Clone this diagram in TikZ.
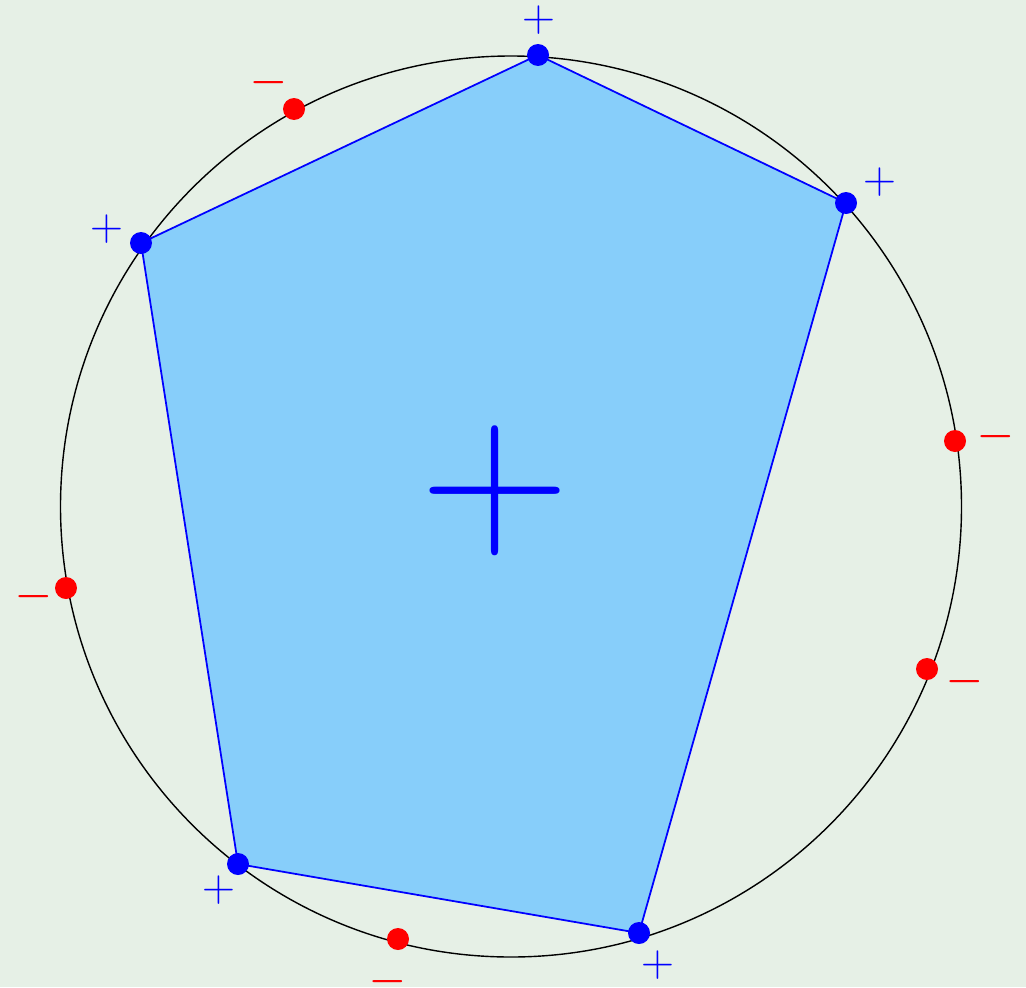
\documentclass[tikz,border=0pt]{standalone}
\usepackage{fontspec}
\usepackage{tikz}
\definecolor{bgmint}{HTML}{E6F0E6}
\definecolor{polyfill}{HTML}{87CEFA}
\tikzset{
  vtx/.style={circle, fill=blue, minimum size=0.44cm, inner sep=0pt},
  rdot/.style={circle, fill=red, minimum size=0.44cm, inner sep=0pt},
  sgnp/.style={text=blue, inner sep=0pt, font=\fontsize{26}{26}\selectfont},
  sgnm/.style={text=red, inner sep=0pt, font=\fontsize{22.5}{22.5}\selectfont\bfseries},
}
\begin{document}
\begin{tikzpicture}[x=0.02cm, y=-0.02cm]
    \useasboundingbox (0,0) rectangle (1026,987);
    \fill[bgmint] (0,0) rectangle (1026,987);
    \draw[line width=.8pt] (511,506.5) circle[radius=450.5];
    % corners of the pentagon
    \coordinate (cA) at (538,55);
    \coordinate (cB) at (846,203);
    \coordinate (cC) at (639,933);
    \coordinate (cD) at (238,864);
    \coordinate (cE) at (141,243);
    \filldraw[fill=polyfill, draw=blue, line width=1pt] (cA) -- (cB) -- (cC) -- (cD) -- (cE) -- cycle;
    \node[text=blue, inner sep=0pt, font=\fontsize{118}{118}\selectfont] (cplus) at (495,491) {+};
    \foreach \c in {cA,cB,cC,cD,cE}{ \node[vtx] (v\c) at (\c) {}; }
    \node[sgnp] (lA) at (539,20) {+};
    \node[sgnp] (lB) at (880,182) {+};
    \node[sgnp] (lC) at (658,965) {+};
    \node[sgnp] (lD) at (219,890) {+};
    \node[sgnp] (lE) at (107,229) {+};
    % points off the pentagon
    \node[rdot] (rA) at (294,109) {};
    \node[rdot] (rB) at (955,441) {};
    \node[rdot] (rC) at (927,669) {};
    \node[rdot] (rD) at (398,939) {};
    \node[rdot] (rE) at (66,588) {};
    \node[sgnm] (mA) at (269,87) {−};
    \node[sgnm] (mB) at (996,441) {−};
    \node[sgnm] (mC) at (965,686) {−};
    \node[sgnm] (mD) at (388,986) {−};
    \node[sgnm] (mE) at (34,601) {−};
  \end{tikzpicture}
\end{document}
